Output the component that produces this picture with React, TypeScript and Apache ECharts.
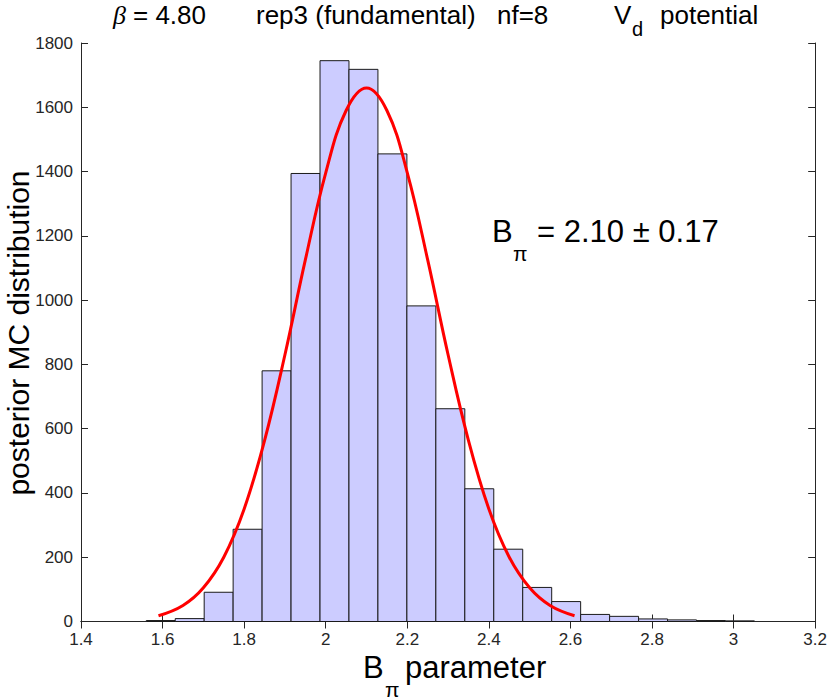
import React, { useEffect, useRef } from "react";
import * as echarts from "echarts";

// Histogram: 21 equal bins between binLow and binHigh
const binLow = 1.56;
const binHigh = 3.051;
const counts = [3, 9, 91, 287, 780, 1394, 1745, 1718, 1455, 982, 662, 413, 225, 106, 62, 22, 16, 8, 5, 3, 2];

// Gaussian fit curve
const fitX = [1.59, 1.65, 1.7, 1.75, 1.8, 1.85, 1.9, 1.95, 2.0, 2.05, 2.1, 2.15, 2.2, 2.25, 2.3, 2.35, 2.4, 2.45, 2.5, 2.55, 2.61];
const fitY = [18, 50, 105, 200, 350, 563, 830, 1125, 1396, 1590, 1660, 1590, 1396, 1125, 830, 563, 350, 200, 105, 50, 18];

const xMin = 1.4;
const xMax = 3.2;
const xStep = 0.2;
const yMin = 0;
const yMax = 1800;
const yStep = 200;

const FONT = "'Liberation Sans', Arial, Helvetica, sans-serif";
const AX = "#262626";

export default function App() {
  const ref = useRef<HTMLDivElement>(null);
  useEffect(() => {
    if (!ref.current) return;
    const chart = echarts.init(ref.current, undefined, { renderer: "svg" });
    const w = (binHigh - binLow) / counts.length;
    const bars = counts.map((c, i) => [binLow + i * w, binLow + (i + 1) * w, c]);
    const fit = fitX.map((x, i) => [x, fitY[i]]);

    const axisCommon = {
      type: "value" as const,
      axisLine: { show: true, lineStyle: { color: AX, width: 1 } },
      axisTick: { show: true, inside: true, length: 7, lineStyle: { color: AX } },
      splitLine: { show: false },
    };

    const txt = (text: string, x: number, y: number, size: number, extra: any = {}) => ({
      type: "text",
      x,
      y,
      style: {
        text,
        fontFamily: FONT,
        fontSize: size,
        fill: "#000",
        align: "left",
        verticalAlign: "middle",
        ...(extra.style || {}),
      },
    });

    const plain = (v: number) => String(Math.round(v * 100) / 100);

    chart.setOption({
      animation: false,
      backgroundColor: "#fff",
      grid: { left: 81, right: 13, top: 43, bottom: 78.5, containLabel: false },
      xAxis: [
        {
          ...axisCommon,
          min: xMin,
          max: xMax,
          interval: xStep,
          axisLabel: { color: AX, fontFamily: FONT, fontSize: 17, margin: 9, formatter: plain },
        },
        {
          ...axisCommon,
          position: "top",
          min: xMin,
          max: xMax,
          interval: xStep,
          axisLabel: { show: false },
        },
      ],
      yAxis: [
        {
          ...axisCommon,
          min: yMin,
          max: yMax,
          interval: yStep,
          axisLabel: { color: AX, fontFamily: FONT, fontSize: 17, margin: 8, formatter: plain },
        },
        {
          ...axisCommon,
          position: "right",
          min: yMin,
          max: yMax,
          interval: yStep,
          axisLabel: { show: false },
        },
      ],
      series: [
        {
          type: "custom",
          xAxisIndex: 0,
          yAxisIndex: 0,
          data: bars,
          encode: { x: [0, 1], y: 2 },
          renderItem: (params: any, api: any) => {
            const p0 = api.coord([api.value(0), 0]);
            const p1 = api.coord([api.value(1), api.value(2)]);
            return {
              type: "rect",
              shape: { x: p0[0], y: p1[1], width: p1[0] - p0[0], height: p0[1] - p1[1] },
              style: { fill: "#ccccff", stroke: "#1a1a1a", lineWidth: 1 },
            };
          },
          z: 2,
        },
        {
          type: "line",
          data: fit,
          smooth: 0.4,
          showSymbol: false,
          symbol: "none",
          lineStyle: { color: "#ff0000", width: 3 },
          z: 3,
        },
      ],
      graphic: [
        // title
        txt("β", 113, 15, 26, { style: { fontFamily: "'Liberation Serif', serif", fontStyle: "italic" } }),
        txt("= 4.80", 133, 15, 26),
        txt("rep3 (fundamental)", 256, 15, 26),
        txt("nf=8", 497, 15, 26),
        txt("V", 614, 15, 26),
        txt("d", 632, 29, 20),
        txt("potential", 660, 15, 26),
        // annotation
        txt("B", 492, 231, 31),
        txt("π", 513, 253, 21),
        txt("= 2.10 ± 0.17", 537, 231, 31),
        // x label
        txt("B", 363, 667, 31),
        txt("π", 385, 689, 21),
        txt("parameter", 405, 667, 31),
        // y label
        {
          type: "text",
          x: 18,
          y: 333,
          rotation: Math.PI / 2,
          style: {
            text: "posterior MC distribution",
            fontFamily: FONT,
            fontSize: 30,
            fill: "#000",
            align: "center",
            verticalAlign: "middle",
          },
        },
      ],
    });
    return () => chart.dispose();
  }, []);
  return (
    <div
      ref={ref}
      style={{ position: "absolute", left: 0, top: 0, width: 830, height: 700, background: "#fff" }}
    />
  );
}
